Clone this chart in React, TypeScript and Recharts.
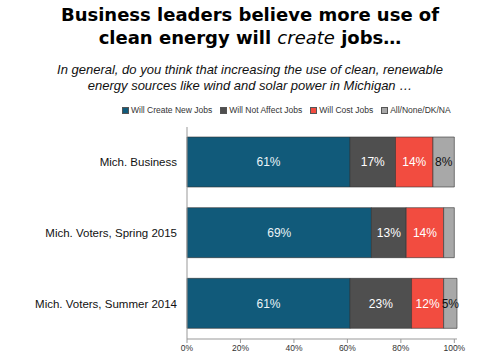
import { BarChart, Bar, XAxis, YAxis, LabelList } from "recharts";

const groups = ["Mich. Business", "Mich. Voters, Spring 2015", "Mich. Voters, Summer 2014"];
const createJobs = [61, 69, 61];
const notAffect = [17, 13, 23];
const costJobs = [14, 14, 12];
const noneDk = [8, 4, 5];
const ticks = [0, 20, 40, 60, 80, 100];

const seriesInfo = [
  { key: "create", name: "Will Create New Jobs", color: "#115a7a", text: "#eaf4f7" },
  { key: "notAffect", name: "Will Not Affect Jobs", color: "#4f4f4f", text: "#ffffff" },
  { key: "cost", name: "Will Cost Jobs", color: "#f24c40", text: "#ffffff" },
  { key: "none", name: "All/None/DK/NA", color: "#a8a8a8", text: "#111111" },
];

const data = groups.map((g, i) => ({
  group: g,
  create: createJobs[i],
  notAffect: notAffect[i],
  cost: costJobs[i],
  none: noneDk[i],
}));

const font = "'Liberation Sans', Arial, sans-serif";

export default function App() {
  return (
    <div style={{ position: "fixed", left: 0, top: 0, width: 500, height: 359, background: "#fff", fontFamily: font }}>
      <div
        style={{
          position: "absolute",
          top: 3,
          width: 500,
          textAlign: "center",
          fontFamily: "'DejaVu Sans', Verdana, sans-serif",
          fontWeight: "bold",
          fontSize: 18,
          lineHeight: "23px",
          color: "#000",
        }}
      >
        Business leaders believe more use of
        <br />
        clean energy will <span style={{ fontStyle: "italic", fontWeight: "normal" }}>create</span> jobs…
      </div>
      <div
        style={{
          position: "absolute",
          top: 62,
          width: 500,
          textAlign: "center",
          fontStyle: "italic",
          fontSize: 13,
          lineHeight: "16px",
          color: "#111",
        }}
      >
        In general, do you think that increasing the use of clean, renewable
        <br />
        energy sources like wind and solar power in Michigan …
      </div>
      <div style={{ position: "absolute", top: 104, left: 122, display: "flex", fontSize: 8.5, color: "#333", lineHeight: "12px" }}>
        {seriesInfo.map((s) => (
          <div key={s.key} style={{ display: "flex", alignItems: "center", marginRight: 8 }}>
            <span style={{ display: "inline-block", width: 5, height: 5, background: s.color, border: "0.5px solid #555", marginRight: 2 }} />
            {s.name}
          </div>
        ))}
      </div>
      <div style={{ position: "absolute", left: 0, top: 0 }}>
        <BarChart
          width={500}
          height={359}
          data={data}
          layout="vertical"
          margin={{ top: 127, right: 43, bottom: 0, left: 0 }}
          barSize={50}
        >
          <XAxis
            type="number"
            domain={[0, 100]}
            ticks={ticks}
            tickFormatter={(v) => `${v}%`}
            tick={{ fontSize: 8.5, fill: "#333", fontFamily: font }}
            stroke="#999"
            tickSize={4}
            height={20}
            interval={0}
          />
          <YAxis
            type="category"
            dataKey="group"
            width={187}
            tickLine={false}
            stroke="#999"
            tick={{ fontSize: 11.5, fill: "#111", fontFamily: font }}
            tickMargin={4}
          />
          {seriesInfo.map((s) => (
            <Bar
              key={s.key}
              dataKey={s.key}
              name={s.name}
              stackId="a"
              fill={s.color}
              stroke="#333"
              strokeWidth={0.6}
              isAnimationActive={false}
            >
              <LabelList
                dataKey={s.key}
                position="center"
                formatter={(v: any) => (v >= 5 ? `${v}%` : "")}
                style={{ fill: s.text, fontSize: 12, fontFamily: font }}
              />
            </Bar>
          ))}
        </BarChart>
      </div>
    </div>
  );
}
